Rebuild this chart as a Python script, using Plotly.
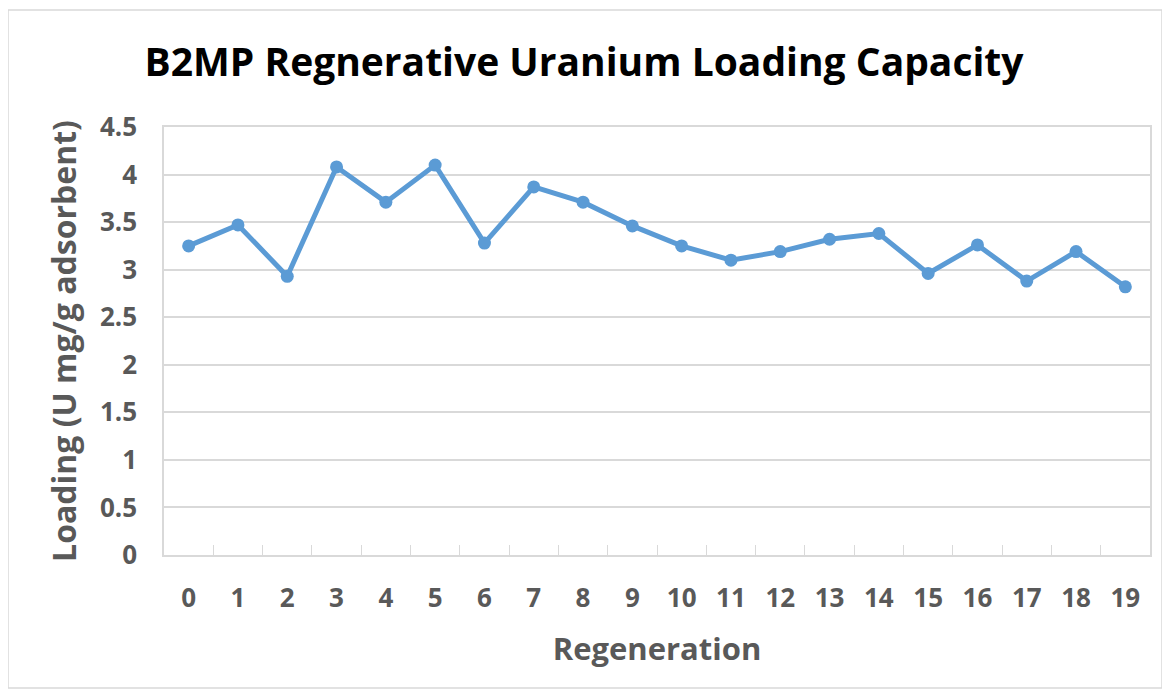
import plotly.graph_objects as go

# data
regeneration = [str(i) for i in range(20)]
loading = [3.25, 3.47, 2.93, 4.08, 3.71, 4.10, 3.28, 3.87, 3.71, 3.46,
           3.25, 3.10, 3.19, 3.32, 3.38, 2.96, 3.26, 2.88, 3.19, 2.82]
y_ticks = [0, 0.5, 1, 1.5, 2, 2.5, 3, 3.5, 4, 4.5]
y_tick_labels = ['0', '0.5', '1', '1.5', '2', '2.5', '3', '3.5', '4', '4.5']

# page body adds an 8px margin, so the figure is drawn 8px smaller
W, H = 1162, 687
L, R, T, B = 156, 20, 119, 140
pw, ph = W - L - R, H - T - B

fig = go.Figure()
fig.add_trace(go.Scatter(
    x=regeneration, y=loading,
    mode='lines+markers',
    line=dict(color='#5B9BD5', width=5),
    marker=dict(color='#5B9BD5', size=13),
    showlegend=False
))

grey = '#595959'
fig.update_layout(
    width=W, height=H,
    margin=dict(l=L, r=R, t=T, b=B, autoexpand=False),
    paper_bgcolor='white', plot_bgcolor='white',
    font=dict(family='Open Sans', color=grey),
    title=dict(
        text='<b>B2MP Regnerative Uranium Loading Capacity</b>',
        font=dict(size=39, color='black', family='Open Sans'),
        x=576 / W, xref='container', xanchor='center',
        y=1 - 54 / H, yanchor='middle'
    ),
    xaxis=dict(
        type='category', range=[-0.5, 19.5], automargin=False,
        tickson='boundaries', ticks='inside', ticklen=10, tickcolor='#d9d9d9',
        showgrid=False, showline=True, linecolor='#d9d9d9', linewidth=1.5,
        mirror=True,
        tickfont=dict(size=26, color=grey, weight='bold'),
        title=dict(text='<b>Regeneration</b>', font=dict(size=31, color=grey), standoff=24),
        ticklabelstandoff=19,
    ),
    yaxis=dict(
        range=[0, 4.5], tickvals=y_ticks, ticktext=y_tick_labels, automargin=False,
        showgrid=True, gridcolor='#d9d9d9', gridwidth=1.5,
        showline=True, linecolor='#d9d9d9', linewidth=1.5, mirror=True,
        zeroline=False, ticks='',
        tickfont=dict(size=26, color=grey, weight='bold'),
        ticklabelstandoff=20,
        title=dict(text='<b>Loading (U mg/g adsorbent)</b>', font=dict(size=32, color=grey), standoff=14),
    ),
)

# outer chart frame
fig.add_shape(
    type='rect', xref='paper', yref='paper',
    x0=(0 - L) / pw, x1=(1154 - L) / pw,
    y0=-(680 - (H - B)) / ph, y1=1 + (T - 2) / ph,
    line=dict(color='#d9d9d9', width=1.5), fillcolor='rgba(0,0,0,0)', layer='below'
)

fig.write_html('out.html')
